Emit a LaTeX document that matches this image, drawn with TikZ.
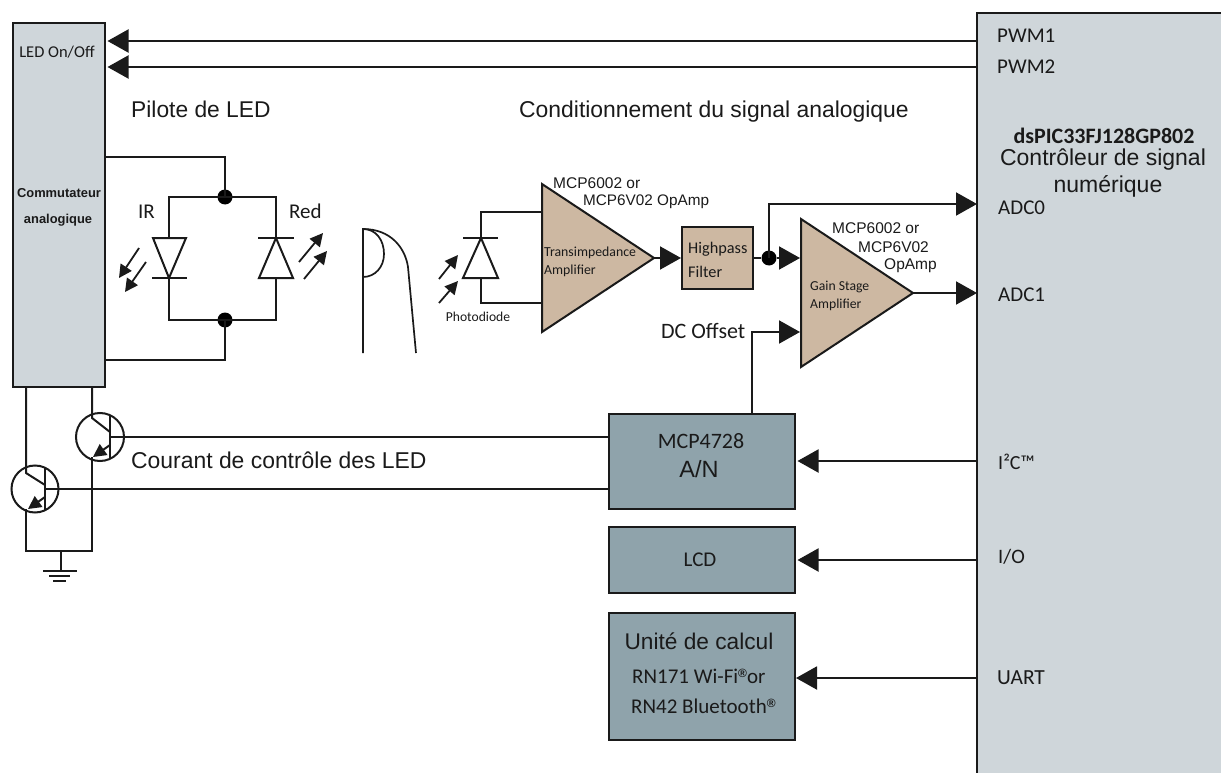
\documentclass[tikz,border=0pt]{standalone}
\usepackage{fontspec}
\setmainfont{Carlito}
\newfontfamily\arial{Liberation Sans}
\usetikzlibrary{arrows.meta,calc}
\definecolor{lightbox}{HTML}{CFD6DA}
\definecolor{darkbox}{HTML}{8FA3AB}
\definecolor{tanbox}{HTML}{CDB8A2}
\definecolor{inkc}{HTML}{1A1A1A}
\newcommand{\fs}[1]{\fontsize{#1}{#1}\selectfont}
\newcommand{\regm}{\raisebox{6pt}{\arial\bfseries\fs{12}®}}
\tikzset{
  wire/.style={line width=2pt,draw=inkc,line cap=butt,line join=miter},
  bigarrow/.style={wire,-{Triangle[length=21pt,width=23pt,inset=0pt]},shorten >=1.5pt},
  optarrow/.style={line width=1.8pt,draw=inkc,-{Triangle[length=13pt,width=13pt,inset=0pt]}},
  emarrow/.style={wire,-{Triangle[length=13pt,width=13pt,inset=0pt]}},
  blockbox/.style={draw=inkc,line width=2pt,inner sep=0pt,anchor=north west,fill=#1},
  junction/.style={circle,fill=black,inner sep=0pt,minimum size=15pt},
  txt/.style={inner sep=0pt,text=inkc,anchor=west},
  ctxt/.style={inner sep=0pt,text=inkc,anchor=center},
  amp/.style={wire,fill=tanbox,line join=miter},
  circ/.style={wire,circle,inner sep=0pt},
}
\begin{document}
\begin{tikzpicture}[x=1pt,y=-1pt]
\useasboundingbox (0,0) rectangle (1221,773);
% blocks
\fill[lightbox] (977,13) rectangle (1221,773);
\draw[wire] (1221,13) -- (977,13) -- (977,773);
\coordinate (mcuw) at (977,300);
\node[blockbox=lightbox,minimum width=92pt,minimum height=364pt] (sw) at (12,22) {};
\node[blockbox=tanbox,minimum width=71pt,minimum height=62pt] (hp) at (681,226) {};
\node[blockbox=darkbox,minimum width=186pt,minimum height=95pt] (dac) at (608,413) {};
\node[blockbox=darkbox,minimum width=186pt,minimum height=66pt] (lcd) at (608,526) {};
\node[blockbox=darkbox,minimum width=186pt,minimum height=127pt] (rn) at (608,612) {};
% PWM arrows
\draw[bigarrow] (mcuw |- 0,41) -- (sw.east |- 0,41);
\draw[bigarrow] (mcuw |- 0,67) -- (sw.east |- 0,67);
% LED bridge
\node[junction] (jt) at (225,197) {};
\node[junction] (jb) at (225,320) {};
\draw[wire] (sw.east |- 0,157) -| (jt.center);
\draw[wire] (sw.east |- 0,360) -| (jb.center);
\draw[wire] (169,238) -- (169,197) -- (276,197) -- (276,238);
\draw[wire] (169,278) -- (169,320) -- (276,320) -- (276,278);
\draw[wire] (153,238) -- (186,238) -- (169,278) -- cycle;
\draw[wire] (152,278) -- (187,278);
\draw[wire] (258,238) -- (294,238);
\draw[wire] (259,278) -- (293,278) -- (276,238) -- cycle;
\draw[optarrow] (139,248) -- (119,278);
\draw[optarrow] (146,262) -- (125,292);
\draw[optarrow] (299,262) -- (323,233);
\draw[optarrow] (304,279) -- (327,251);
% finger
\draw[line width=1.7pt,draw=inkc] (363,353) -- (363,229) .. controls (376,229) and (384,240) .. (384,254) .. controls (384,267) and (375,277) .. (363,277);
\draw[line width=1.7pt,draw=inkc] (363,229) .. controls (390,229) and (405,247) .. (408,267) -- (416,353);
% transistors
\node[circ,minimum size=48pt] (t1) at (100,437) {};
\node[circ,minimum size=47pt] (t2) at (35,489) {};
\draw[wire] (110,416) -- (110,458);
\draw[wire] (45,468) -- (45,510);
\draw[wire] (92,386) -- (92,418) -- (110,432);
\draw[wire] (26,386) -- (26,473) -- (45,485);
\draw[emarrow] (110,445) -- (93,457);
\draw[emarrow] (45,497) -- (28,509);
\coordinate (gj) at (61,551);
\draw[wire] (92,457) -- (92,551) -- (26,551) -- (26,509);
\draw[wire] (gj) -- (61,571);
\draw[wire] (43,571) -- (77,571);
\draw[wire] (49,576) -- (70,576);
\draw[wire] (53,581) -- (66,581);
\draw[wire] (110,437) -- (dac.west |- 0,437);
\draw[wire] (45,489) -- (dac.west |- 0,489);
% photodiode
\draw[wire] (542,212) -- (481,212) -- (481,238);
\draw[wire] (481,278) -- (481,303) -- (542,303);
\draw[wire] (463,238) -- (498,238);
\draw[wire] (463,278) -- (498,278) -- (481,238) -- cycle;
\draw[optarrow] (439,279) -- (458,255);
\draw[optarrow] (439,303) -- (458,281);
% amplifiers
\draw[amp] (542,184) -- (654,258) -- (542,332) -- cycle;
\draw[amp] (801,219) -- (913,293) -- (801,367) -- cycle;
\coordinate (a1o) at (654,258);
\coordinate (a2o) at (913,293);
\draw[bigarrow,shorten >=0pt] (a1o) -- (hp.west |- a1o);
\node[junction] (jf) at (769,258) {};
\draw[wire] (hp.east |- jf) -- (jf);
\draw[bigarrow,shorten >=0pt] (jf) -- (800,258);
\draw[bigarrow,shorten >=0pt] (jf.center) |- (mcuw |- 0,204);
\draw[bigarrow,shorten >=0pt] (a2o) -- (mcuw |- a2o);
\draw[bigarrow,shorten >=0pt] (dac.north -| 752,0) |- (800,332);
% bus arrows
\draw[bigarrow] (mcuw |- 0,461) -- (dac.east |- 0,461);
\draw[bigarrow] (mcuw |- 0,560) -- (lcd.east |- 0,560);
\draw[bigarrow,shorten >=0pt] (mcuw |- 0,678) -- (rn.east |- 0,678);
% texts
\node[ctxt] (t01) at (57,52) {\fs{16.5}LED On/Off};
\node[ctxt] (t02) at (59,193) {\arial\bfseries\fs{12.9}Commutateur};
\node[ctxt] (t03) at (58,220) {\arial\bfseries\fs{12.9}analogique};
\node[txt] (t04) at (131,109) {\arial\fs{22.8}Pilote de LED};
\node[txt] (t05) at (519,112) {\arial\fs{22.9}Conditionnement du signal analogique};
\node[txt] (t06) at (138,212) {\fs{21}IR};
\node[txt] (t07) at (289,211) {\fs{21}Red};
\node[txt] (t08) at (131,460) {\arial\fs{22.9}Courant de contrôle des LED};
\node[ctxt] (t09) at (478,317) {\fs{13.6}Photodiode};
\node[txt] (t10) at (553,183) {\arial\fs{15.5}MCP6002 or};
\node[txt] (t11) at (583,202) {\arial\fs{15.3}MCP6V02 OpAmp};
\node[txt] (t12) at (832,228) {\arial\fs{15.5}MCP6002 or};
\node[txt] (t13) at (858,247) {\arial\fs{15.5}MCP6V02};
\node[txt] (t14) at (884,266) {\arial\fs{15.5}OpAmp};
\node[txt] (t15) at (544,253) {\fs{13.8}Transimpedance};
\node[txt] (t16) at (544,271) {\fs{13.8}Amplifier};
\node[txt] (t17) at (810,287) {\fs{13.7}Gain Stage};
\node[txt] (t18) at (810,305) {\fs{13.7}Amplifier};
\node[txt] (t20) at (688,249) {\fs{16.3}Highpass};
\node[txt] (t21) at (688,272) {\fs{16.3}Filter};
\node[txt] (t22) at (661,331) {\fs{22}DC Offset};
\node[ctxt] (t23) at (701,441) {\fs{22}MCP4728};
\node[ctxt] (t24) at (699,469) {\arial\fs{23.5}A/N};
\node[ctxt] (t25) at (700,560) {\fs{21}LCD};
\node[ctxt] (t26) at (699,641) {\arial\fs{22.7}Unité de calcul};
\node[txt] (t27) at (632,676) {\fs{21}RN171 Wi-Fi\regm or};
\node[txt] (t28) at (631,706) {\fs{21}RN42 Bluetooth\regm};
\node[txt] (t29) at (997,36) {\fs{21}PWM1};
\node[txt] (t30) at (997,67) {\fs{21}PWM2};
\node[ctxt] (t31) at (1104,135.5) {\bfseries\fs{22}dsPIC33FJ128GP802};
\node[ctxt] (t32) at (1103,160) {\arial\fs{23}Contrôleur de signal};
\node[ctxt] (t33) at (1108,186) {\arial\fs{23}numérique};
\node[txt] (t34) at (998,208) {\fs{21}ADC0};
\node[txt] (t35) at (998,295) {\fs{21}ADC1};
\node[txt] (t36) at (998,462) {\fs{20}I²C™};
\node[txt] (t37) at (998,557) {\fs{20.5}I/O};
\node[txt] (t38) at (997,678) {\fs{21.5}UART};
\end{tikzpicture}
\end{document}
